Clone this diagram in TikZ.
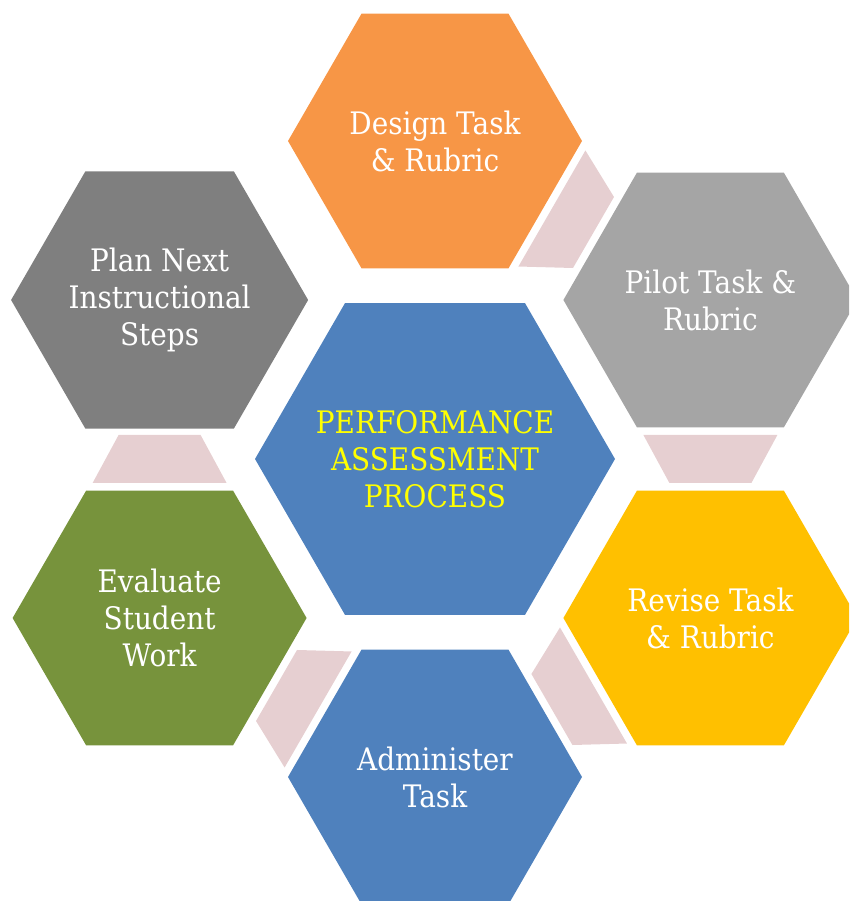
\documentclass[tikz,border=0pt]{standalone}
\usepackage{fontspec}
\setmainfont{DejaVu Serif}[FakeStretch=0.9]
\usetikzlibrary{positioning, shapes.geometric, calc}
\definecolor{hexblue}{HTML}{4F81BD}
\definecolor{hexorange}{HTML}{F79646}
\definecolor{hexsilver}{HTML}{A5A5A5}
\definecolor{hexgold}{HTML}{FFC000}
\definecolor{hexgreen}{HTML}{77933C}
\definecolor{hexgrey}{HTML}{7F7F7F}
\definecolor{hexyellow}{HTML}{FFFF00}
\definecolor{linkpink}{HTML}{E6CFD1}

\begin{document}
\begin{tikzpicture}[
      x=1pt, y=1pt,
      every node/.style={font=\fontsize{31}{37}\selectfont, text=white, align=center},
      hexbig/.style={regular polygon, regular polygon sides=6, minimum size=360pt, inner sep=0pt},
      hexsmall/.style={regular polygon, regular polygon sides=6, minimum size=294pt, inner sep=0pt},
      link/.style={fill=linkpink},
    ]
    \useasboundingbox (0,0) rectangle (849,901);
    \clip (0,0) rectangle (849,901);

    % Centre
    \node[hexbig, fill=hexblue] (core) at (435,442) {};
    \node[text=hexyellow] (title) at (core) {PERFORMANCE\\ASSESSMENT\\PROCESS};

    % Ring of steps
    \node[hexsmall, fill=hexorange] (design) at ($(core)+(90:318)$) {Design Task\\\& Rubric};
    \node[hexsmall, fill=hexsilver] (pilot) at ($(core)+(30:318)$) {Pilot Task \&\\Rubric};
    \node[hexsmall, fill=hexgold] (revise) at ($(core)+(-30:318)$) {Revise Task\\\& Rubric};
    \node[hexsmall, fill=hexblue] (admin) at ($(core)+(-90:318)$) {Administer\\Task};
    \node[hexsmall, fill=hexgreen] (evaluate) at ($(core)+(210:318)$) {Evaluate\\Student\\Work};
    \node[hexsmall, fill=hexgrey] (plan) at ($(core)+(150:318)$) {Plan Next\\Instructional\\Steps};

    % Links between steps, narrow end towards the next step
    \foreach \from/\to/\turn in {design/pilot/-120, pilot/revise/180, revise/admin/120,
                                 admin/evaluate/60, evaluate/plan/0}
      \fill[link, shift={($(\from)!0.5!(\to)$)}, rotate=\turn]
        (-67,-24) -- (67,-24) -- (41,24) -- (-41,24) -- cycle;
\end{tikzpicture}
\end{document}
